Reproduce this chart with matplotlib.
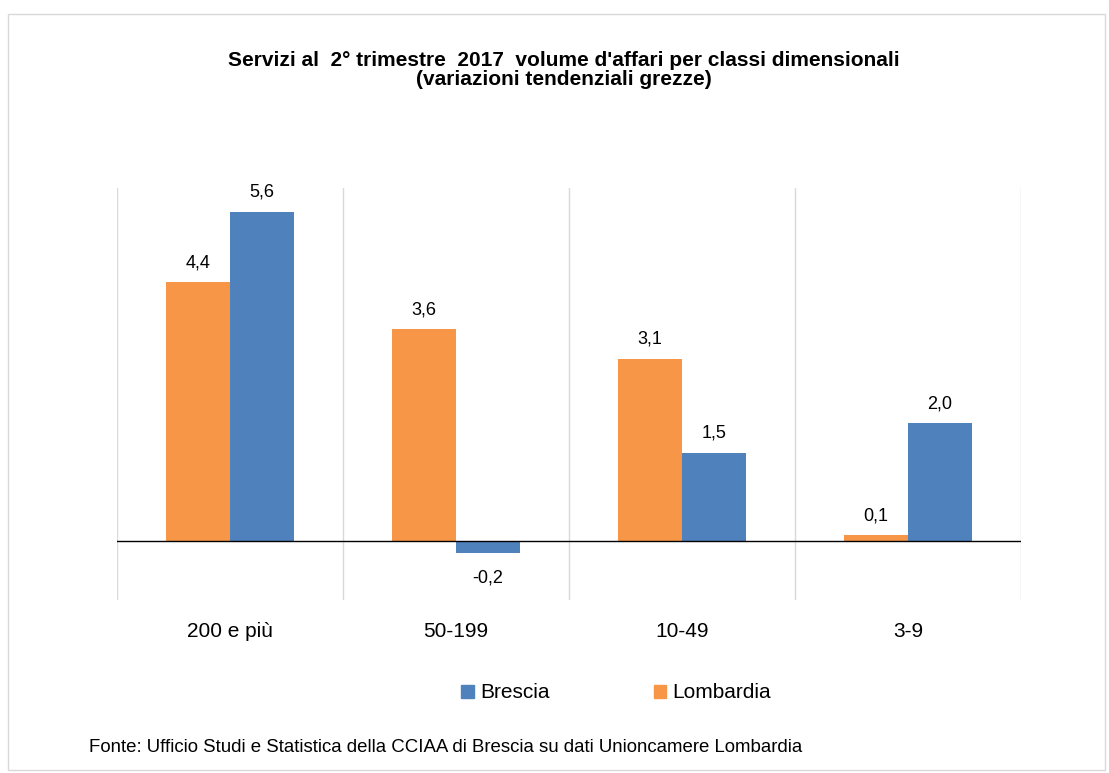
import matplotlib
matplotlib.use("Agg")
import matplotlib.pyplot as plt
from matplotlib.patches import Patch, Rectangle
import numpy as np

plt.rcParams["font.family"] = ["Liberation Sans", "DejaVu Sans"]

categories = ["200 e più", "50-199", "10-49", "3-9"]
lombardia = [4.4, 3.6, 3.1, 0.1]
brescia = [5.6, -0.2, 1.5, 2.0]

TITLE = ("Servizi al  2° trimestre  2017  volume d'affari per classi dimensionali\n"
         "(variazioni tendenziali grezze)")
SOURCE = "Fonte: Ufficio Studi e Statistica della CCIAA di Brescia su dati Unioncamere Lombardia"

C_LOMB = "#F79646"
C_BRES = "#4F81BD"

W, H = 1109, 773
fig = plt.figure(figsize=(W / 100, H / 100), dpi=100)
ax = fig.add_axes([117 / W, 1 - 600 / H, (1021 - 117) / W, (600 - 188) / H])

# outer chart border
fig.patches.append(Rectangle((8 / W, 1 - 770 / H), (1105 - 8) / W, (770 - 14) / H,
                             transform=fig.transFigure, fill=False,
                             edgecolor="#D9D9D9", linewidth=1.0))

x = np.arange(len(categories))
bw = 0.283
ax.bar(x - bw / 2, lombardia, width=bw, color=C_LOMB, label="Lombardia")
ax.bar(x + bw / 2, brescia, width=bw, color=C_BRES, label="Brescia")


def label(xpos, v):
    txt = f"{v:.1f}".replace(".", ",")
    if v >= 0:
        ax.annotate(txt, (xpos, v), xytext=(0, 8), textcoords="offset points",
                    ha="center", va="bottom", fontsize=13)
    else:
        ax.annotate(txt, (xpos, v), xytext=(0, -12), textcoords="offset points",
                    ha="center", va="top", fontsize=13)


for i in range(len(categories)):
    label(x[i] - bw / 2, lombardia[i])
    label(x[i] + bw / 2, brescia[i])

ax.set_xlim(-0.5, len(categories) - 0.5)
ax.set_ylim(-1, 6)
ax.axhline(0, color="black", linewidth=1.0, zorder=3)

for s in ax.spines.values():
    s.set_visible(False)
ax.set_yticks([])
ax.set_xticks(x)
ax.set_xticklabels(categories, fontsize=15)
ax.tick_params(axis="x", length=0, pad=16)
ax.set_xticks(np.arange(-0.5, len(categories)), minor=True)
ax.tick_params(axis="x", which="minor", length=0)
ax.grid(which="minor", axis="x", color="#D9D9D9", linewidth=1.0)
ax.set_axisbelow(True)

fig.text(564 / W, 1 - 70 / H, TITLE, ha="center", va="center",
         fontsize=15, fontweight="bold", linespacing=1.05)

handles = [Patch(color=C_BRES, label="Brescia"), Patch(color=C_LOMB, label="Lombardia")]
fig.legend(handles=handles, loc="center", bbox_to_anchor=(616 / W, 1 - 693 / H),
           ncol=2, frameon=False, fontsize=15, handlelength=0.6, handleheight=0.6,
           handletextpad=0.3, columnspacing=5.0)

fig.text(89 / W, 1 - 747 / H, SOURCE, ha="left", va="center", fontsize=13.4)

fig.savefig("out.png", dpi=100)
